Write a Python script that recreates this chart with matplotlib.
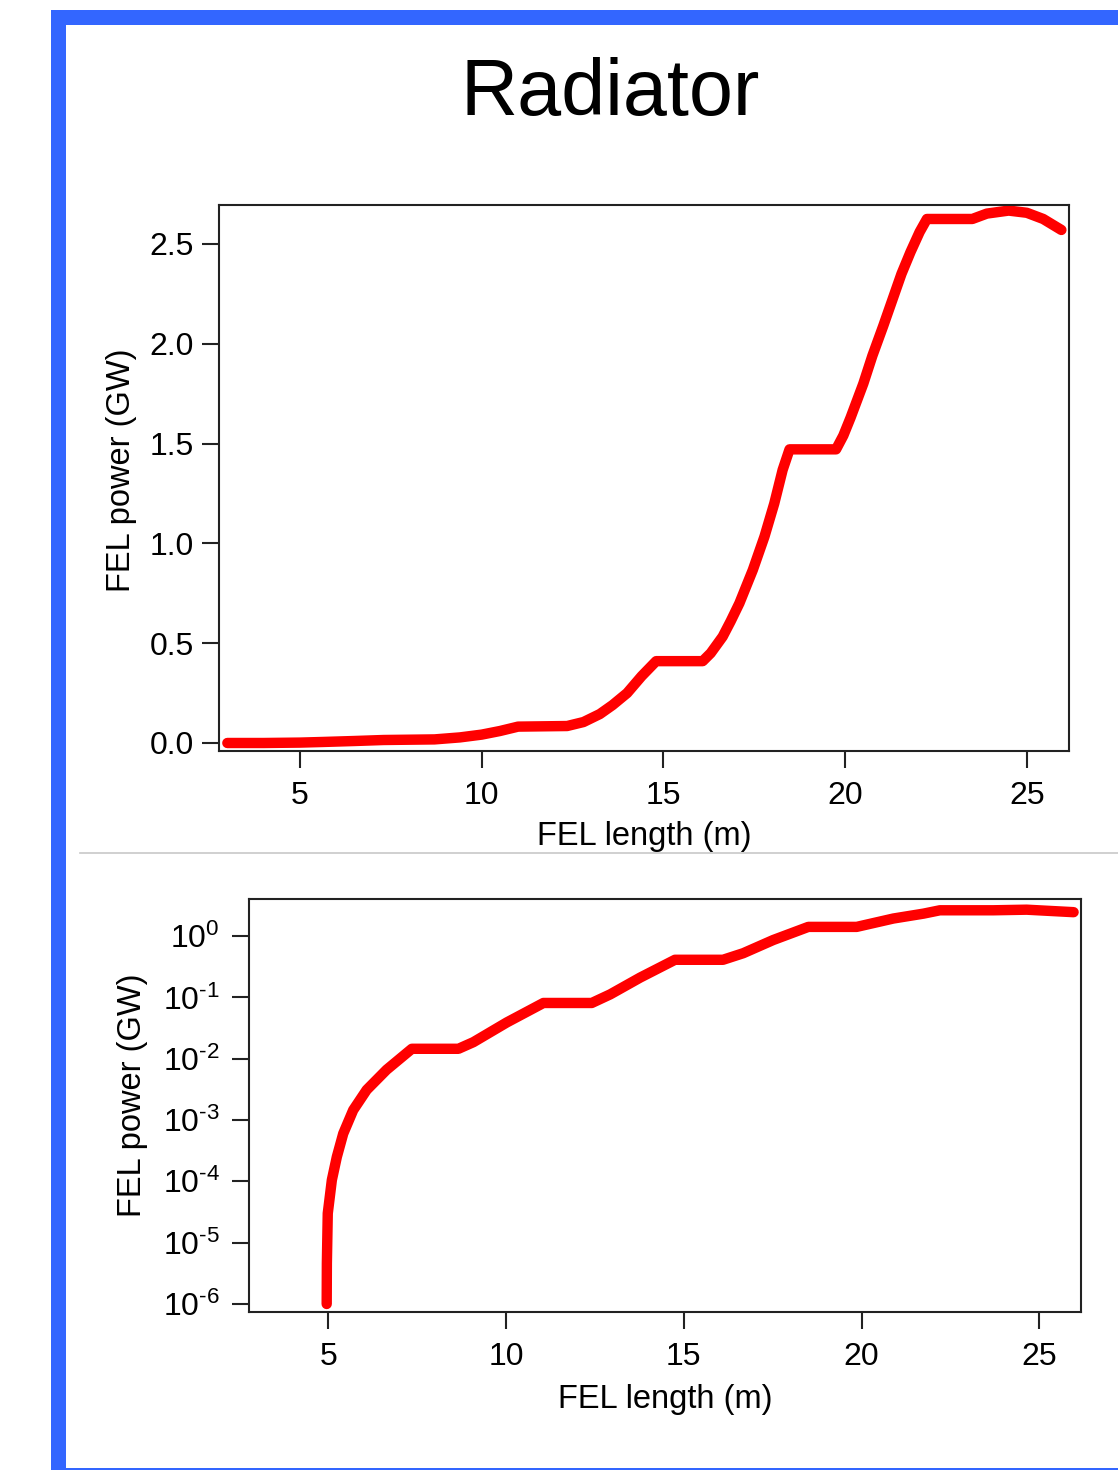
import matplotlib
matplotlib.use('Agg')
import matplotlib.pyplot as plt
from matplotlib.patches import Rectangle
from matplotlib.lines import Line2D
from matplotlib.ticker import FixedLocator, NullLocator

plt.rcParams['font.family'] = ['Liberation Sans', 'DejaVu Sans']
plt.rcParams['mathtext.fontset'] = 'custom'
plt.rcParams['mathtext.rm'] = 'Liberation Sans'
plt.rcParams['mathtext.it'] = 'Liberation Sans'

# FEL power along the radiator, linear scale (GW)
zLin = [3.0, 4.0, 5.0, 5.6, 6.5, 7.3, 8.7, 9.4, 10.0, 10.5, 11.0, 12.35, 12.8,
        13.25, 13.6, 14.0, 14.4, 14.8, 16.08, 16.3, 16.63, 16.85, 17.09, 17.46,
        17.78, 18.05, 18.28, 18.47, 19.75, 19.95, 20.15, 20.5, 20.75, 21.05,
        21.3, 21.55, 21.8, 22.05, 22.25, 23.5, 23.9, 24.5, 25.0, 25.45, 25.95]
pLin = [0.0, 0.0, 0.002, 0.005, 0.01, 0.015, 0.018, 0.028, 0.042, 0.06, 0.082,
        0.085, 0.105, 0.145, 0.19, 0.25, 0.335, 0.41, 0.41, 0.45, 0.533, 0.61,
        0.70, 0.867, 1.034, 1.20, 1.368, 1.471, 1.471, 1.54, 1.63, 1.80, 1.94,
        2.09, 2.22, 2.35, 2.46, 2.56, 2.625, 2.625, 2.652, 2.667, 2.656, 2.625,
        2.57]

# same quantity on a log scale
zLog = [4.955, 4.96, 4.985, 5.10, 5.24, 5.42, 5.70, 6.08, 6.64, 7.35, 8.66,
        9.08, 10.02, 11.05, 12.41, 12.93, 13.77, 14.75, 16.1, 16.67, 17.51,
        18.5, 19.86, 20.89, 21.74, 22.2, 23.7, 24.64, 25.96]
pLog = [1.0e-6, 4.6e-6, 3.0e-5, 1.05e-4, 2.5e-4, 6.0e-4, 1.45e-3, 3.1e-3,
        6.6e-3, 0.0145, 0.0145, 0.0186, 0.039, 0.081, 0.081, 0.112, 0.21, 0.41,
        0.41, 0.525, 0.86, 1.41, 1.41, 1.93, 2.32, 2.63, 2.63, 2.69, 2.45]

linTicks = [0.0, 0.5, 1.0, 1.5, 2.0, 2.5]
linTickLabels = ['0.0', '0.5', '1.0', '1.5', '2.0', '2.5']
logTicks = [1e0, 1e-1, 1e-2, 1e-3, 1e-4, 1e-5, 1e-6]
logTickLabels = [r'$\mathregular{10^{0}}$', r'$\mathregular{10^{\text{-}1}}$',
                 r'$\mathregular{10^{\text{-}2}}$', r'$\mathregular{10^{\text{-}3}}$',
                 r'$\mathregular{10^{\text{-}4}}$', r'$\mathregular{10^{\text{-}5}}$',
                 r'$\mathregular{10^{\text{-}6}}$']
xTicks = [5, 10, 15, 20, 25]

W, H = 1118, 1470
fig = plt.figure(figsize=(W / 100, H / 100), dpi=100)
fig.patch.set_facecolor('white')

# slide frame
blue = '#3366ff'
fig.add_artist(Rectangle((51 / W, 1 - 25 / H), 1 - 51 / W, 15 / H,
                         transform=fig.transFigure, color=blue, lw=0))
fig.add_artist(Rectangle((51 / W, 0), 15 / W, 1 - 10 / H,
                         transform=fig.transFigure, color=blue, lw=0))
fig.add_artist(Rectangle((51 / W, 0), 1 - 51 / W, 2.5 / H,
                         transform=fig.transFigure, color=blue, lw=0))
fig.add_artist(Line2D([80 / W, 1.0], [1 - 853 / H, 1 - 853 / H],
                      transform=fig.transFigure, color='#c8c8c8', lw=1.2))

fig.text(610 / W, 1 - 115 / H, 'Radiator', fontsize=57, ha='center',
         va='baseline')


def styleAxes(ax, ypad):
    for sp in ax.spines.values():
        sp.set_linewidth(1.5)
        sp.set_color('#222222')
    ax.tick_params(axis='both', which='major', direction='out', length=12,
                   width=1.5, color='#222222', labelsize=23, pad=10,
                   top=False, right=False)
    ax.tick_params(axis='y', pad=ypad)
    ax.set_xticks(xTicks)
    ax.set_xticklabels([str(t) for t in xTicks])
    ax.set_xlim(2.77, 26.16)
    ax.set_xlabel('FEL length (m)', fontsize=23.5)
    ax.set_ylabel('FEL power (GW)', fontsize=23.5)


# linear plot
ax1 = fig.add_axes([219 / W, 1 - 750.5 / H, 850 / W, 545.5 / H])
ax1.plot(zLin, pLin, color='#ff0000', lw=7.5, solid_capstyle='round',
         solid_joinstyle='round')
styleAxes(ax1, 6)
ax1.set_ylim(-0.0376, 2.695)
ax1.set_yticks(linTicks)
ax1.set_yticklabels(linTickLabels)
ax1.xaxis.set_label_coords(0.5, -0.129)
ax1.yaxis.set_label_coords(-0.097, 0.514)

# log plot
ax2 = fig.add_axes([249 / W, 1 - 1311.7 / H, 831.7 / W, 412.7 / H])
ax2.plot(zLog, pLog, color='#ff0000', lw=7.5, solid_capstyle='round',
         solid_joinstyle='round')
ax2.set_yscale('log')
styleAxes(ax2, 9)
ax2.set_ylim(10 ** -6.126, 10 ** 0.604)
ax2.yaxis.set_major_locator(FixedLocator(logTicks))
ax2.yaxis.set_minor_locator(NullLocator())
ax2.set_yticklabels(logTickLabels)
ax2.xaxis.set_label_coords(0.5, -0.174)
ax2.yaxis.set_label_coords(-0.122, 0.525)

fig.savefig('out.png', dpi=100, facecolor='white')
